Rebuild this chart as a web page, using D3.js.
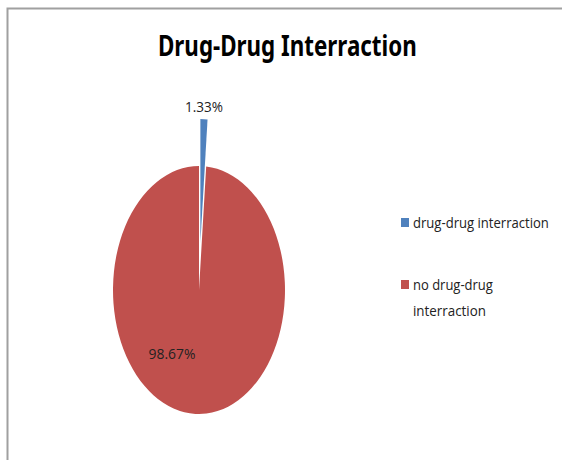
<!DOCTYPE html>
<html>
<head>
<meta charset="utf-8">
<script src="https://cdn.jsdelivr.net/npm/d3@7"></script>
<style>
  body { margin: 0; background: #fff; }
  svg { display: block; }
</style>
</head>
<body>
<svg id="chart" width="562" height="460"></svg>
<script>
const categories = ['drug-drug interraction', 'no drug-drug interraction']
const values = [1.33, 98.67]
const labels = ['1.33%', '98.67%']
const legendLines = [['drug-drug interraction'], ['no drug-drug', 'interraction']]

const colors = ['#4f81bd', '#c0504d']
const width = 562
const height = 460
const center = { x: 199, y: 290 }
const rx = 86
const ry = 124
const explode = 47

const svg = d3.select('#chart')

// squeeze a text horizontally to a target width (source image is condensed)
function fitText(sel, x, y, w, anchor) {
  const node = sel.node()
  const natural = node.getComputedTextLength()
  const sx = Math.min(1, w / natural)
  const left = anchor === 'middle' ? x - w / 2 : x
  sel.attr('x', 0).attr('y', 0)
    .attr('transform', `translate(${left},${y}) scale(${sx},1)`)
}

// chart frame (only top and left edges are visible in the crop)
svg.append('path')
  .attr('d', `M7.5,${height} V8.5 H${width}`)
  .attr('fill', 'none').attr('stroke', '#a0a0a0').attr('stroke-width', 2)

const title = svg.append('text')
  .style('font-family', 'Noto Sans').style('font-weight', 'bold').style('font-size', '28px')
  .style('fill', '#000')
  .text('Drug-Drug Interraction')
fitText(title, 158, 56, 259)

const pie = d3.pie().sort(null).value(d => d)
const arcs = pie(values)
const arc = d3.arc().innerRadius(0).outerRadius(ry)

// pie drawn as a circle, then squashed horizontally like the source image
const pieG = svg.append('g')
  .attr('transform', `translate(${center.x},${center.y}) scale(${rx / ry},1)`)

pieG.selectAll('path').data(arcs)
  .enter().append('path')
  .attr('d', arc)
  .attr('fill', (d, i) => colors[i])
  .attr('transform', (d, i) => {
    if (i !== 0) return null
    const mid = (d.startAngle + d.endAngle) / 2
    return `translate(${Math.sin(mid) * explode},${-Math.cos(mid) * explode})`
  })

const labelPos = [{ x: 204, y: 112, w: 38 }, { x: 172, y: 359, w: 47 }]
svg.selectAll('text.pct').data(labels)
  .enter().append('text').attr('class', 'pct')
  .style('font-family', 'Open Sans').style('font-size', '15px').style('fill', '#222')
  .text(d => d)
  .each(function (d, i) {
    fitText(d3.select(this), labelPos[i].x, labelPos[i].y, labelPos[i].w, 'middle')
  })

const legendY = [218, 280]
const legend = svg.selectAll('g.legend').data(categories)
  .enter().append('g').attr('class', 'legend')
  .attr('transform', (d, i) => `translate(401,${legendY[i]})`)

legend.append('rect')
  .attr('width', 8).attr('height', 9)
  .attr('fill', (d, i) => colors[i])

const lineWidths = [[136], [80, 73]]
legend.each(function (d, i) {
  d3.select(this).selectAll('text').data(legendLines[i])
    .enter().append('text')
    .style('font-family', 'Open Sans').style('font-size', '15px').style('fill', '#222')
    .text(t => t)
    .each(function (t, j) {
      fitText(d3.select(this), 12, 10 + j * 26, lineWidths[i][j])
    })
})
</script>
</body>
</html>
